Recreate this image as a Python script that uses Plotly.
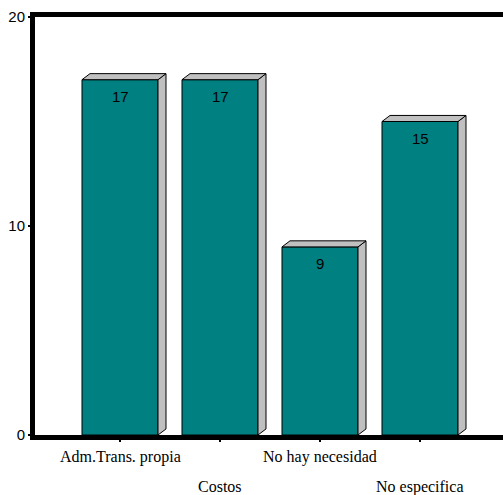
import plotly.graph_objects as go

# Responses per reason
categories = ["Adm.Trans. propia", "Costos", "No hay necesidad", "No especifica"]
values = [17, 17, 9, 15]
y_ticks = [0, 10, 20]

FRONT = "#008080"
SIDE = "#C0C0C0"
BAR_W = 0.76
DX = 0.08    # depth offset along x (category units)
DY = 0.29    # depth offset along y (data units)

pos = list(range(len(categories)))
half = BAR_W / 2

side_x, side_y, top_x, top_y = [], [], [], []
for c, v in zip(pos, values):
    r = c + half
    l = c - half
    side_x += [r, r + DX, r + DX, r, r, None]
    side_y += [0, DY, v + DY, v, 0, None]
    top_x += [l, l + DX, r + DX, r, l, None]
    top_y += [v, v + DY, v + DY, v, v, None]

fig = go.Figure()
fig.add_trace(go.Bar(
    x=pos, y=values, width=BAR_W,
    marker=dict(color=FRONT, line=dict(color="black", width=1)),
    hoverinfo="skip",
))
for xs, ys in ((side_x, side_y), (top_x, top_y)):
    fig.add_trace(go.Scatter(
        x=xs, y=ys, mode="lines", fill="toself", fillcolor=SIDE,
        line=dict(color="black", width=1), hoverinfo="skip",
    ))

annotations = []
for c, v in zip(pos, values):
    annotations.append(dict(
        x=c, y=v, xref="x", yref="y", text=str(v), showarrow=False,
        yanchor="middle", yshift=-17,
        font=dict(family="Liberation Sans, Arial", size=15, color="black"),
    ))
for i, (c, name) in enumerate(zip(pos, categories)):
    annotations.append(dict(
        x=c, y=0, xref="x", yref="paper", text=name, showarrow=False,
        yanchor="top", yshift=-11 if i % 2 == 0 else -41,
        font=dict(family="Liberation Serif, Times New Roman", size=16, color="black"),
    ))

fig.update_layout(
    width=503, height=495,
    margin=dict(l=35, r=0, t=17, b=60),
    paper_bgcolor="white", plot_bgcolor="white",
    showlegend=False,
    annotations=annotations,
    xaxis=dict(
        range=[-0.85, 3.83], tickvals=pos, showticklabels=False,
        ticks="outside", ticklen=2, tickwidth=1.5, tickcolor="black",
        showline=True, linewidth=5, linecolor="black", mirror=True,
        showgrid=False, zeroline=False, fixedrange=True,
    ),
    yaxis=dict(
        range=[0, 20], tickvals=y_ticks,
        ticks="outside", ticklen=2, tickwidth=1.5, tickcolor="black",
        tickfont=dict(family="Liberation Sans, Arial", size=15, color="black"),
        showline=True, linewidth=5, linecolor="black",
        showgrid=False, zeroline=False, fixedrange=True,
    ),
)

fig.write_html("out.html")
